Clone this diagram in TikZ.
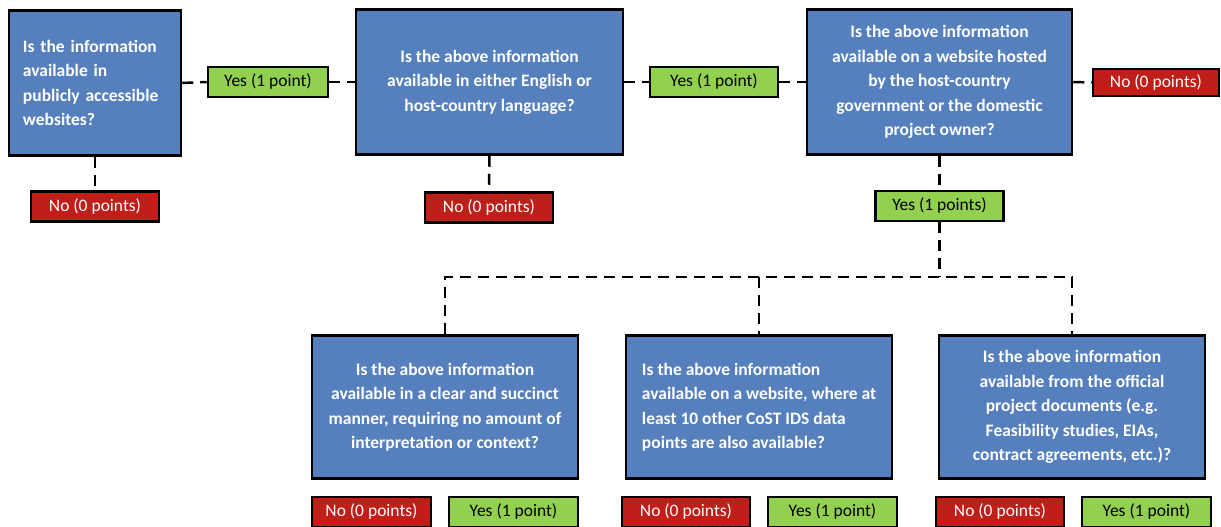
\documentclass[tikz,border=0pt]{standalone}
\usepackage{fontspec}
\setmainfont{Carlito}
\definecolor{qblue}{HTML}{5580BD}
\definecolor{ygreen}{HTML}{92D050}
\definecolor{nred}{HTML}{BF1E19}
\begin{document}
\begin{tikzpicture}[x=1pt,y=-1pt,
  qbox/.style={draw=black, line width=2.5pt, fill=qblue, text=white,
    font=\fontsize{17.5}{24.5}\selectfont\bfseries, inner sep=0pt, minimum height=145pt},
  lab/.style={draw=black, line width=2.5pt, font=\fontsize{17.5}{21}\selectfont,
    inner sep=0pt, minimum height=30pt, minimum width=128pt},
  yesbox/.style={lab, fill=ygreen, text=black},
  nobox/.style={lab, fill=nred, text=white},
  conn/.style={line width=2.5pt, dash pattern=on 11pt off 7pt}
]
\useasboundingbox (0,0) rectangle (1221,527);

% top row questions
\node[qbox, minimum width=172pt, text width=144pt, align=left] (q1) at (95,83)
  {Is the information\\available in\\publicly accessible\\websites?};
\node[qbox, minimum width=267pt, align=center] (q2) at (489.5,82)
  {Is the above information\\available in either English or\\host-country language?};
\node[qbox, minimum width=265pt, align=center] (q3) at (939.5,82)
  {Is the above information\\available on a website hosted\\by the host-country\\government or the domestic\\project owner?};

% top row labels
\node[yesbox, minimum width=120pt] (y1) at (268,82) {Yes (1 point)};
\node[yesbox] (y2) at (714,82) {Yes (1 point)};
\node[nobox, minimum width=126pt, minimum height=27pt] (n3) at (1156,82.5) {No (0 points)};
\node[nobox] (n1) at (95,206.5) {No (0 points)};
\node[nobox] (n2) at (489,207.5) {No (0 points)};
\node[yesbox] (y3) at (939.5,206) {Yes (1 points)};

% bottom row questions
\node[qbox, minimum width=266pt, minimum height=143pt, align=center] (q4) at (445,407)
  {Is the above information\\available in a clear and succinct\\manner, requiring no amount of\\interpretation or context?};
\node[qbox, minimum width=266pt, minimum height=143pt, align=left] (q5) at (759,407)
  {Is the above information\\available on a website, where at\\least 10 other CoST IDS data\\points are also available?};
\node[qbox, minimum width=266pt, minimum height=143pt, align=center] (q6) at (1072,407)
  {Is the above information\\available from the official\\project documents (e.g.\\Feasibility studies, EIAs,\\contract agreements, etc.)?};

% bottom row labels
\node[nobox, minimum width=119pt] (n4) at (371.5,512) {No (0 points)};
\node[yesbox, minimum width=129pt] (y4) at (513.5,512) {Yes (1 point)};
\node[nobox] (n5) at (686,512) {No (0 points)};
\node[yesbox, minimum width=129pt] (y5) at (832.5,512) {Yes (1 point)};
\node[nobox] (n6) at (1000,512) {No (0 points)};
\node[yesbox, minimum width=129pt] (y6) at (1146.5,512) {Yes (1 point)};

\coordinate (j) at (939.5,277);

% connectors
\draw[conn] (q1.east) -- (y1.west);
\draw[conn] (y1.east) -- (q2.west);
\draw[conn] (q2.east) -- (y2.west);
\draw[conn] (y2.east) -- (q3.west);
\draw[conn] (q3.east) -- (n3.west);
\draw[conn] (q1.south) -- (n1.north);
\draw[conn] (q2.south) -- (n2.north);
\draw[conn] (q3.south) -- (y3.north);
\draw[conn] (y3.south) -- (j);
\draw[conn] (q4.north) -- (q4.north |- j) -- (q6.north |- j) -- (q6.north);
\draw[conn] (q5.north |- j) -- (q5.north);
\end{tikzpicture}
\end{document}
